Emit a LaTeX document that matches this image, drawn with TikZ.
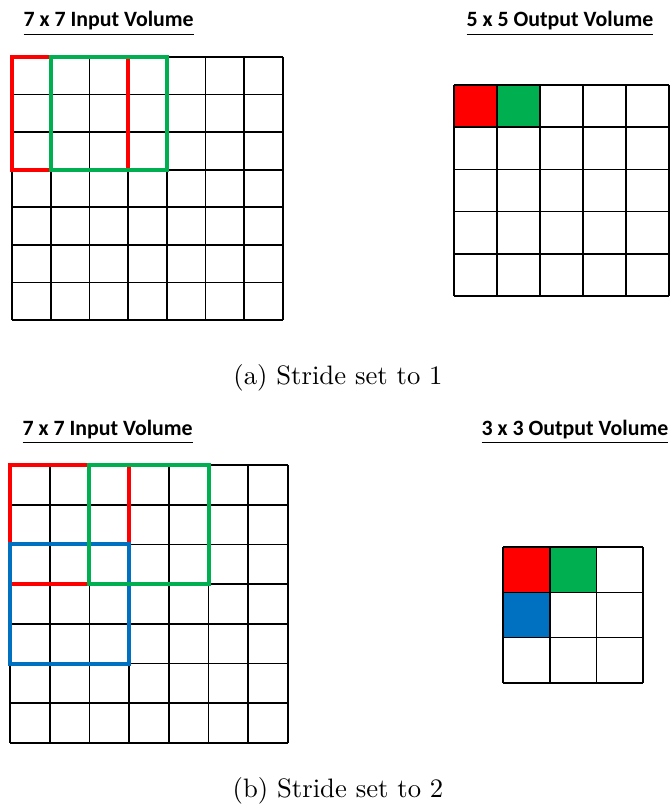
\documentclass[tikz,border=0pt]{standalone}
\usepackage{fontspec}
\newfontfamily\titlefont{Carlito}
\usetikzlibrary{positioning}

\begin{document}
\begin{tikzpicture}[x=0.375pt,y=-0.375pt,
  grd/.style={draw,black,line width=0.6pt},
  win/.style={line width=1.5pt},
  ttl/.style={font=\titlefont\fontsize{8.2}{10}\selectfont\bfseries,anchor=base west,inner sep=0pt},
  captxt/.style={font=\normalsize,anchor=base,inner sep=0pt}]
\definecolor{wred}{RGB}{255,0,0}
\definecolor{wgreen}{RGB}{0,176,80}
\definecolor{wblue}{RGB}{0,112,192}
\useasboundingbox (0,0) rectangle (671,809);
% ---- (a) input volume
\node[ttl] (inA) at (23,27) {\underline{7 x 7 Input Volume}};
\begin{scope}[shift={(12,57)}]
 \foreach \i in {0,...,7}{\draw[grd] (\i*38.7,0) -- (\i*38.7,263); \draw[grd] (0,\i*37.57) -- (271,\i*37.57);}
 \draw[win,wred] (0,0) rectangle (3*38.7,3*37.57);
 \draw[win,wgreen] (38.7,0) rectangle (4*38.7,3*37.57);
\end{scope}
% ---- (a) output volume
\node[ttl] (outA) at (466,27) {\underline{5 x 5 Output Volume}};
\begin{scope}[shift={(454,85)}]
 \fill[wred] (0,0) rectangle (43,42.2);
 \fill[wgreen] (43,0) rectangle (86,42.2);
 \foreach \i in {0,...,5}{\draw[grd] (\i*43,0) -- (\i*43,211); \draw[grd] (0,\i*42.2) -- (215,\i*42.2);}
\end{scope}
\node[captxt] (capA) at (338,384) {(a) Stride set to 1};
% ---- (b) input volume
\node[ttl] (inB) at (22,435) {\underline{7 x 7 Input Volume}};
\begin{scope}[shift={(10,465)}]
 \foreach \i in {0,...,7}{\draw[grd] (\i*39.7,0) -- (\i*39.7,278); \draw[grd] (0,\i*39.7) -- (278,\i*39.7);}
 \draw[win,wred] (0,0) rectangle (3*39.7,3*39.7);
 \draw[win,wblue] (0,2*39.7) rectangle (3*39.7,5*39.7);
 \draw[win,wgreen] (2*39.7,0) rectangle (5*39.7,3*39.7);
\end{scope}
% ---- (b) output volume
\node[ttl] (outB) at (481,435) {\underline{3 x 3 Output Volume}};
\begin{scope}[shift={(503,547)}]
 \fill[wred] (0,0) rectangle (46.7,45.3);
 \fill[wgreen] (46.7,0) rectangle (93.4,45.3);
 \fill[wblue] (0,45.3) rectangle (46.7,90.6);
 \foreach \i in {0,...,3}{\draw[grd] (\i*46.7,0) -- (\i*46.7,136); \draw[grd] (0,\i*45.33) -- (140,\i*45.33);}
\end{scope}
\node[captxt] (capB) at (338,797) {(b) Stride set to 2};
\end{tikzpicture}
\end{document}
